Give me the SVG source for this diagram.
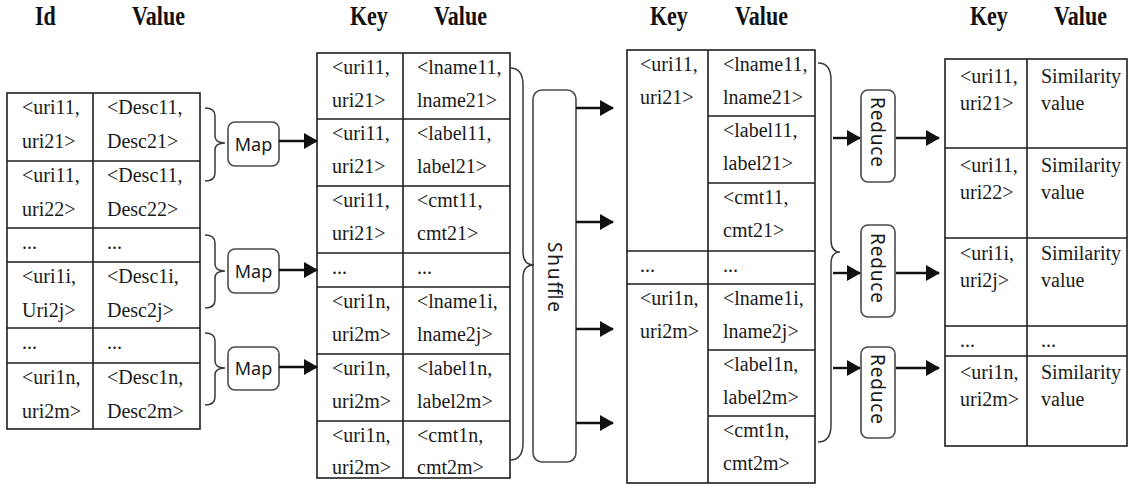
<svg xmlns="http://www.w3.org/2000/svg" width="1130" height="491" viewBox="0 0 1130 491">
  <style>
    .bg { fill: #ffffff; }
    .tbl { fill: #ffffff; stroke: #1e1e1e; stroke-width: 1.6; }
    .grid { stroke: #1e1e1e; stroke-width: 1.6; fill: none; }
    .cell { font-family: "Liberation Serif", "Times New Roman", serif; font-size: 20px; fill: #1a1a1a; }
    .head { font-family: "Liberation Serif", "Times New Roman", serif; font-size: 22px; font-weight: bold; fill: #111111; }
    .proc { fill: #ffffff; stroke: #4a4a4a; stroke-width: 1.6; }
    .plabel { font-family: "Noto Sans", "Open Sans", "DejaVu Sans", sans-serif; font-size: 18px; fill: #1a1a1a; }
    .vlabel { font-family: "Noto Sans", "Open Sans", "DejaVu Sans", sans-serif; font-size: 19px; fill: #1a1a1a; }
    .brace { fill: none; stroke: #3a3a3a; stroke-width: 1.5; }
    .arrow { fill: none; stroke: #111111; stroke-width: 2.4; marker-end: url(#head); }
  </style>
  <defs>
    <marker id="head" viewBox="0 0 14 16" refX="13" refY="8" markerWidth="14" markerHeight="16" markerUnits="userSpaceOnUse" orient="auto">
      <path d="M0,0 L14,8 L0,16 Z" fill="#111111"/>
    </marker>
  </defs>

  <rect class="bg" x="0" y="0" width="1130" height="491"/>

  <!-- column headings -->
  <g id="headings">
    <text class="head" transform="translate(35,25) scale(1,1.23)">Id</text>
    <text class="head" transform="translate(132,25) scale(1,1.23)">Value</text>
    <text class="head" transform="translate(350,25) scale(1,1.23)">Key</text>
    <text class="head" transform="translate(434,25) scale(1,1.23)">Value</text>
    <text class="head" transform="translate(650,25) scale(1,1.23)">Key</text>
    <text class="head" transform="translate(735,25) scale(1,1.23)">Value</text>
    <text class="head" transform="translate(970,25) scale(1,1.23)">Key</text>
    <text class="head" transform="translate(1054,25) scale(1,1.23)">Value</text>
  </g>

  <!-- input records -->
  <g id="input-table">
    <rect class="tbl" x="7" y="93" width="193" height="336"/>
    <path class="grid" d="M93,93 V429 M7,161 H200 M7,228 H200 M7,262 H200 M7,328 H200 M7,363 H200"/>
    <g class="cell">
      <text x="22" y="114">&lt;uri11,<tspan x="22" y="148">uri21&gt;</tspan></text>
      <text x="107" y="114">&lt;Desc11,<tspan x="107" y="148">Desc21&gt;</tspan></text>
      <text x="22" y="182">&lt;uri11,<tspan x="22" y="216">uri22&gt;</tspan></text>
      <text x="107" y="182">&lt;Desc11,<tspan x="107" y="216">Desc22&gt;</tspan></text>
      <text x="22" y="249">...</text>
      <text x="107" y="249">...</text>
      <text x="22" y="283">&lt;uri1i,<tspan x="22" y="317">Uri2j&gt;</tspan></text>
      <text x="107" y="283">&lt;Desc1i,<tspan x="107" y="317">Desc2j&gt;</tspan></text>
      <text x="22" y="349">...</text>
      <text x="107" y="349">...</text>
      <text x="22" y="384">&lt;uri1n,<tspan x="22" y="418">uri2m&gt;</tspan></text>
      <text x="107" y="384">&lt;Desc1n,<tspan x="107" y="418">Desc2m&gt;</tspan></text>
    </g>
  </g>

  <!-- map tasks -->
  <g id="map-1">
    <rect class="proc" x="228" y="122" width="51" height="44" rx="7"/>
    <text class="plabel" x="253.5" y="150.5" text-anchor="middle">Map</text>
  </g>
  <g id="map-2">
    <rect class="proc" x="228" y="249" width="51" height="44" rx="7"/>
    <text class="plabel" x="253.5" y="277.5" text-anchor="middle">Map</text>
  </g>
  <g id="map-3">
    <rect class="proc" x="228" y="347" width="51" height="43" rx="7"/>
    <text class="plabel" x="253.5" y="374.5" text-anchor="middle">Map</text>
  </g>

  <!-- map output pairs -->
  <g id="map-output">
    <rect class="tbl" x="317" y="53" width="193" height="425"/>
    <path class="grid" d="M403,53 V478 M317,119 H510 M317,186 H510 M317,253 H510 M317,287 H510 M317,354 H510 M317,421 H510"/>
    <g class="cell">
      <text x="332" y="74">&lt;uri11,<tspan x="332" y="107">uri21&gt;</tspan></text>
      <text x="417" y="74">&lt;lname11,<tspan x="417" y="107">lname21&gt;</tspan></text>
      <text x="332" y="140">&lt;uri11,<tspan x="332" y="173">uri21&gt;</tspan></text>
      <text x="417" y="140">&lt;label11,<tspan x="417" y="173">label21&gt;</tspan></text>
      <text x="332" y="207">&lt;uri11,<tspan x="332" y="240">uri21&gt;</tspan></text>
      <text x="417" y="207">&lt;cmt11,<tspan x="417" y="240">cmt21&gt;</tspan></text>
      <text x="332" y="274">...</text>
      <text x="417" y="274">...</text>
      <text x="332" y="308">&lt;uri1n,<tspan x="332" y="341">uri2m&gt;</tspan></text>
      <text x="417" y="308">&lt;lname1i,<tspan x="417" y="341">lname2j&gt;</tspan></text>
      <text x="332" y="375">&lt;uri1n,<tspan x="332" y="408">uri2m&gt;</tspan></text>
      <text x="417" y="375">&lt;label1n,<tspan x="417" y="408">label2m&gt;</tspan></text>
      <text x="332" y="442">&lt;uri1n,<tspan x="332" y="474">uri2m&gt;</tspan></text>
      <text x="417" y="442">&lt;cmt1n,<tspan x="417" y="474">cmt2m&gt;</tspan></text>
    </g>
  </g>

  <!-- shuffle stage -->
  <g id="shuffle">
    <rect class="proc" x="533" y="90" width="43" height="372" rx="9"/>
    <text class="vlabel" x="555" y="277" text-anchor="middle" dominant-baseline="central" transform="rotate(90 555 277)" textLength="70" lengthAdjust="spacing">Shuffle</text>
  </g>

  <!-- grouped pairs -->
  <g id="grouped">
    <rect class="tbl" x="627" y="50" width="188" height="433"/>
    <path class="grid" d="M708,50 V483 M708,116 H815 M708,183 H815 M627,251 H815 M627,284 H815 M708,350 H815 M708,416 H815"/>
    <g class="cell">
      <text x="640" y="71">&lt;uri11,<tspan x="640" y="104">uri21&gt;</tspan></text>
      <text x="723" y="71">&lt;lname11,<tspan x="723" y="104">lname21&gt;</tspan></text>
      <text x="723" y="137">&lt;label11,<tspan x="723" y="170">label21&gt;</tspan></text>
      <text x="723" y="204">&lt;cmt11,<tspan x="723" y="237">cmt21&gt;</tspan></text>
      <text x="640" y="272">...</text>
      <text x="723" y="272">...</text>
      <text x="640" y="305">&lt;uri1n,<tspan x="640" y="338">uri2m&gt;</tspan></text>
      <text x="723" y="305">&lt;lname1i,<tspan x="723" y="338">lname2j&gt;</tspan></text>
      <text x="723" y="371">&lt;label1n,<tspan x="723" y="404">label2m&gt;</tspan></text>
      <text x="723" y="437">&lt;cmt1n,<tspan x="723" y="470">cmt2m&gt;</tspan></text>
    </g>
  </g>

  <!-- reduce tasks -->
  <g id="reduce-1">
    <rect class="proc" x="861" y="90" width="34" height="92" rx="7"/>
    <text class="vlabel" x="878" y="132" text-anchor="middle" dominant-baseline="central" transform="rotate(90 878 132)" textLength="70" lengthAdjust="spacing">Reduce</text>
  </g>
  <g id="reduce-2">
    <rect class="proc" x="861" y="225" width="34" height="92" rx="7"/>
    <text class="vlabel" x="878" y="268" text-anchor="middle" dominant-baseline="central" transform="rotate(90 878 268)" textLength="70" lengthAdjust="spacing">Reduce</text>
  </g>
  <g id="reduce-3">
    <rect class="proc" x="861" y="347" width="34" height="91" rx="7"/>
    <text class="vlabel" x="878" y="389" text-anchor="middle" dominant-baseline="central" transform="rotate(90 878 389)" textLength="70" lengthAdjust="spacing">Reduce</text>
  </g>

  <!-- similarity results -->
  <g id="results">
    <rect class="tbl" x="945" y="59" width="182" height="387"/>
    <path class="grid" d="M1027,59 V446 M945,148 H1127 M945,238 H1127 M945,326 H1127 M945,356 H1127"/>
    <g class="cell">
      <text x="960" y="83">&lt;uri11,<tspan x="960" y="110">uri21&gt;</tspan></text>
      <text x="1041" y="83">Similarity<tspan x="1041" y="110">value</tspan></text>
      <text x="960" y="172">&lt;uri11,<tspan x="960" y="199">uri22&gt;</tspan></text>
      <text x="1041" y="172">Similarity<tspan x="1041" y="199">value</tspan></text>
      <text x="960" y="260">&lt;uri1i,<tspan x="960" y="287">uri2j&gt;</tspan></text>
      <text x="1041" y="260">Similarity<tspan x="1041" y="287">value</tspan></text>
      <text x="960" y="347">...</text>
      <text x="1041" y="347">...</text>
      <text x="960" y="379">&lt;uri1n,<tspan x="960" y="406">uri2m&gt;</tspan></text>
      <text x="1041" y="379">Similarity<tspan x="1041" y="406">value</tspan></text>
    </g>
  </g>

  <!-- braces and arrows -->
  <g id="connectors">
    <path class="brace" d="M205,108 Q215,108 215,116 L215,136 Q215,143 225,143 Q215,143 215,150 L215,173 Q215,181 205,181"/>
    <path class="brace" d="M205,235 Q215,235 215,243 L215,264 Q215,271 225,271 Q215,271 215,278 L215,300 Q215,308 205,308"/>
    <path class="brace" d="M205,333 Q215,333 215,341 L215,361 Q215,368 225,368 Q215,368 215,375 L215,397 Q215,405 205,405"/>
    <path class="brace" d="M510,68 Q523,68 523,85 L523,252 Q523,265 534,265 Q523,265 523,278 L523,443 Q523,460 510,460"/>
    <path class="brace" d="M818,63 Q831,63 831,80 L831,240 Q831,252 840,252 Q831,252 831,264 L831,425 Q831,442 818,442"/>

    <line class="arrow" x1="279" y1="141" x2="317" y2="141"/>
    <line class="arrow" x1="279" y1="270" x2="317" y2="270"/>
    <line class="arrow" x1="279" y1="367" x2="317" y2="367"/>

    <line class="arrow" x1="576" y1="108" x2="613" y2="108"/>
    <line class="arrow" x1="576" y1="222" x2="613" y2="222"/>
    <line class="arrow" x1="576" y1="329" x2="613" y2="329"/>
    <line class="arrow" x1="576" y1="423" x2="613" y2="423"/>

    <line class="arrow" x1="833" y1="138" x2="860" y2="138"/>
    <line class="arrow" x1="833" y1="273" x2="860" y2="273"/>
    <line class="arrow" x1="833" y1="368" x2="860" y2="368"/>

    <line class="arrow" x1="896" y1="138" x2="939" y2="138"/>
    <line class="arrow" x1="896" y1="273" x2="939" y2="273"/>
    <line class="arrow" x1="896" y1="368" x2="939" y2="368"/>
  </g>
</svg>
